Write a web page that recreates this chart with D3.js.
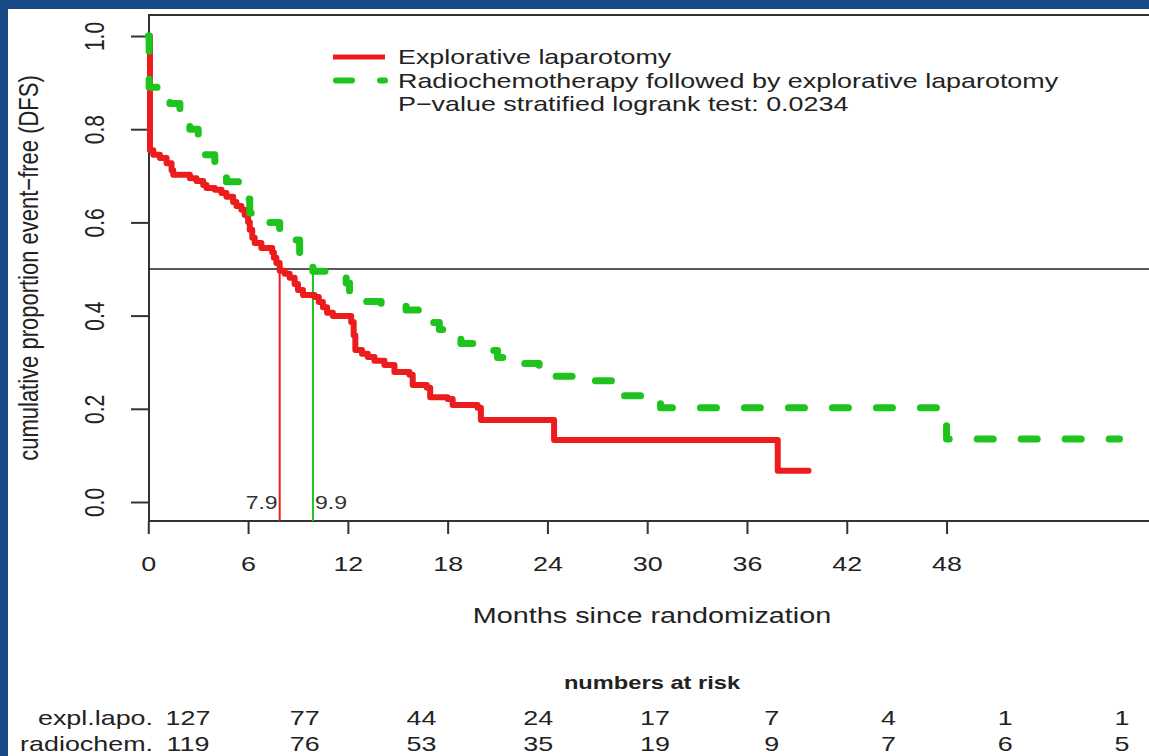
<!DOCTYPE html>
<html>
<head>
<meta charset="utf-8">
<script src="https://cdn.jsdelivr.net/npm/d3@7"></script>
<style>
  html, body { margin: 0; padding: 0; background: #ffffff; }
  svg { display: block; font-family: "Liberation Sans", Arial, Helvetica, sans-serif; }
</style>
</head>
<body>
<svg id="chart" width="1149" height="756"></svg>
<script>
// Disease-free survival, Kaplan–Meier estimates per arm
const redTimes = [0, 0.1, 0.3, 0.7, 1.1, 1.4, 1.5, 2.5, 2.9, 3.3, 3.5, 4.0, 4.4, 4.7, 5.1, 5.3, 5.6, 5.8, 6.0, 6.1, 6.25, 6.4, 6.8, 7.45, 7.55, 7.7, 7.9, 8.2, 8.5, 8.8, 9.0, 9.3, 10.0, 10.25, 10.5, 10.75, 11.1, 12.2, 12.35, 12.45, 12.85, 13.2, 13.6, 14.2, 14.8, 15.7, 15.9, 16.75, 16.95, 18.0, 18.3, 19.8, 20.0, 24.4, 37.85];
const redSurv  = [1.0, 0.755, 0.745, 0.738, 0.727, 0.712, 0.702, 0.695, 0.689, 0.680, 0.674, 0.670, 0.663, 0.655, 0.644, 0.635, 0.627, 0.616, 0.601, 0.584, 0.567, 0.556, 0.545, 0.536, 0.524, 0.513, 0.496, 0.490, 0.481, 0.468, 0.455, 0.444, 0.440, 0.429, 0.418, 0.406, 0.399, 0.386, 0.358, 0.326, 0.318, 0.311, 0.303, 0.294, 0.279, 0.273, 0.251, 0.245, 0.225, 0.221, 0.208, 0.202, 0.176, 0.133, 0.067];
const redEnd = 39.7;

const greenTimes = [0, 0.05, 0.7, 1.3, 1.9, 2.5, 3.0, 3.4, 4.0, 4.7, 5.5, 6.1, 6.9, 7.9, 9.1, 9.9, 11.9, 12.1, 13.0, 14.0, 15.5, 16.5, 17.0, 17.5, 18.3, 18.8, 19.8, 21.0, 21.8, 23.5, 24.2, 25.5, 28.0, 30.8, 48.0];
const greenSurv  = [1.0, 0.89, 0.875, 0.855, 0.83, 0.80, 0.78, 0.745, 0.712, 0.687, 0.65, 0.62, 0.60, 0.562, 0.524, 0.495, 0.47, 0.445, 0.43, 0.42, 0.412, 0.40, 0.385, 0.37, 0.355, 0.34, 0.325, 0.31, 0.297, 0.28, 0.27, 0.26, 0.228, 0.202, 0.135];
const greenEnd = 58.4;

// Median survival (months)
const medians = [7.9, 9.9];

const xTicks = [0, 6, 12, 18, 24, 30, 36, 42, 48];
const yTicks = [0.0, 0.2, 0.4, 0.6, 0.8, 1.0];

const legendLabels = [
  "Explorative laparotomy",
  "Radiochemotherapy followed by explorative laparotomy",
  "P\u2212value stratified logrank test: 0.0234"
];

const riskGroups = ["expl.lapo.", "radiochem."];
const riskExpl   = [127, 77, 44, 24, 17, 7, 4, 1, 1];
const riskRadio  = [119, 76, 53, 35, 19, 9, 7, 6, 5];

const RED = "#ec1c1c";
const GREEN = "#1ec31e";
const SX = 1.28; // horizontal glyph stretch

const svg = d3.select("#chart");

// page frame
svg.append("rect").attr("x", 0).attr("y", 0).attr("width", 1149).attr("height", 756).attr("fill", "#184a88");
svg.append("rect").attr("x", 8).attr("y", 9).attr("width", 1200).attr("height", 800).attr("fill", "#ffffff");

const plot = { left: 149, top: 15, bottom: 521, right: 1170 };
const x = d3.scaleLinear().domain([0, 60]).range([148.3, 148.3 + 60 * 16.63]);
const y = d3.scaleLinear().domain([0, 1]).range([502, 36]);

function sText(parent, px, py, str, size, anchor, weight) {
  return parent.append("text")
    .attr("transform", `translate(${px},${py}) scale(${SX},1)`)
    .attr("text-anchor", anchor || "start")
    .attr("font-size", size)
    .attr("font-weight", weight || "normal")
    .attr("fill", "#222")
    .text(str);
}

// plot box
svg.append("path")
  .attr("d", `M${plot.right},${plot.top}H${plot.left}V${plot.bottom}H${plot.right}`)
  .attr("fill", "none").attr("stroke", "#333").attr("stroke-width", 2);

// x axis
const gx = svg.append("g").attr("transform", `translate(0,${plot.bottom})`)
  .call(d3.axisBottom(x).tickValues(xTicks).tickSize(13).tickPadding(22).tickFormat(d3.format("d")));
gx.select(".domain").remove();
gx.selectAll(".tick line").attr("stroke", "#333").attr("stroke-width", 2);
gx.selectAll(".tick text")
  .attr("font-size", 21).attr("fill", "#222")
  .attr("font-family", "Liberation Sans, Arial, sans-serif")
  .attr("transform", `scale(${SX},1)`);

// y axis
const gy = svg.append("g").attr("transform", `translate(${plot.left},0)`)
  .call(d3.axisLeft(y).tickValues(yTicks).tickSize(18).tickFormat(d3.format(".1f")));
gy.select(".domain").remove();
gy.selectAll(".tick line").attr("stroke", "#333").attr("stroke-width", 2);
gy.selectAll(".tick text")
  .attr("x", 0).attr("dy", 0)
  .attr("text-anchor", "middle")
  .attr("font-size", 21).attr("fill", "#222")
  .attr("font-family", "Liberation Sans, Arial, sans-serif")
  .attr("transform", `translate(-45,0) scale(${SX},1) rotate(-90)`);

// axis titles
svg.append("text")
  .attr("transform", `translate(38,${(plot.top + plot.bottom) / 2}) scale(${SX},1) rotate(-90)`)
  .attr("text-anchor", "middle").attr("font-size", 22).attr("fill", "#222")
  .text("cumulative proportion event\u2212free (DFS)");
sText(svg, 652, 623, "Months since randomization", 22.5, "middle");

// reference line at 50% and median markers
svg.append("line")
  .attr("x1", plot.left).attr("x2", plot.right)
  .attr("y1", y(0.5)).attr("y2", y(0.5))
  .attr("stroke", "#222").attr("stroke-width", 1.6);
const medColors = [RED, GREEN];
medians.forEach((m, i) => {
  svg.append("line")
    .attr("x1", x(m)).attr("x2", x(m))
    .attr("y1", y(0.5)).attr("y2", plot.bottom)
    .attr("stroke", medColors[i]).attr("stroke-width", 2);
  sText(svg, x(m) + (i === 0 ? -2 : 2), y(0) + 7, m.toFixed(1), 18, i === 0 ? "end" : "start")
    .attr("fill", "#333");
});

// survival curves
const step = d3.line().x(d => x(d[0])).y(d => y(d[1])).curve(d3.curveStepAfter);
function curveData(times, surv, end) {
  const pts = times.map((t, i) => [t, surv[i]]);
  pts.push([end, surv[surv.length - 1]]);
  return pts;
}
svg.append("path")
  .attr("d", step(curveData(redTimes, redSurv, redEnd)))
  .attr("fill", "none").attr("stroke", RED).attr("stroke-width", 6)
  .attr("stroke-linejoin", "round").attr("stroke-linecap", "round");
svg.append("path")
  .attr("d", step(curveData(greenTimes, greenSurv, greenEnd)))
  .attr("fill", "none").attr("stroke", GREEN).attr("stroke-width", 7)
  .attr("stroke-dasharray", "16,28")
  .attr("stroke-linejoin", "round").attr("stroke-linecap", "round");

// legend
const lg = { x0: 333, x1: 385, tx: 398, y0: 57, dy: 23.5 };
svg.append("line").attr("x1", lg.x0).attr("x2", lg.x1).attr("y1", lg.y0).attr("y2", lg.y0)
  .attr("stroke", RED).attr("stroke-width", 5);
svg.append("line").attr("x1", lg.x0 + 3).attr("x2", lg.x1).attr("y1", lg.y0 + lg.dy).attr("y2", lg.y0 + lg.dy)
  .attr("stroke", GREEN).attr("stroke-width", 6).attr("stroke-dasharray", "16,28").attr("stroke-linecap", "round");
legendLabels.forEach((s, i) => sText(svg, lg.tx, lg.y0 + i * lg.dy + 7, s, 21, "start"));

// numbers at risk
sText(svg, 652, 689, "numbers at risk", 18.5, "middle", "bold");
const riskX = d3.scalePoint().domain(d3.range(riskExpl.length)).range([188, 1122]);
[riskExpl, riskRadio].forEach((row, r) => {
  const by = 725 + r * 26;
  sText(svg, 153, by, riskGroups[r], 21, "end");
  row.forEach((v, i) => sText(svg, riskX(i), by, String(v), 21, "middle"));
});
</script>
</body>
</html>
